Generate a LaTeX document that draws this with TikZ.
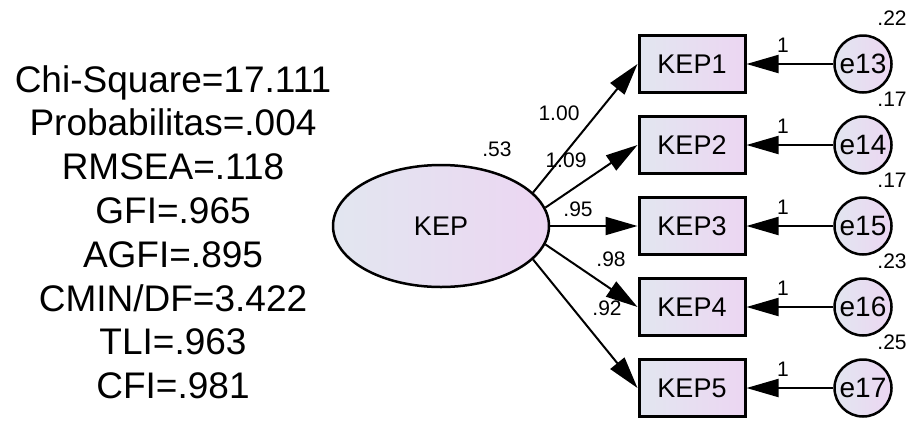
\documentclass[tikz,border=0pt]{standalone}
\usepackage{fontspec}
\setmainfont{Liberation Sans}
\usetikzlibrary{shapes.geometric,arrows.meta,positioning,calc}

\definecolor{fillleft}{RGB}{226,230,240}
\definecolor{fillright}{RGB}{236,214,242}

\begin{document}
\begin{tikzpicture}[x=1pt,y=-1pt]
  \tikzstyle{latent} = [ellipse, draw, line width=2.5pt, left color=fillleft, right color=fillright, minimum width=216pt, minimum height=122pt, font=\fontsize{27}{30}\selectfont]
  \tikzstyle{item} = [rectangle, draw, line width=3pt, left color=fillleft, right color=fillright, minimum width=106pt, minimum height=57pt, inner sep=0pt, font=\fontsize{27}{30}\selectfont]
  \tikzstyle{error} = [circle, draw, line width=2.5pt, left color=fillleft, right color=fillright, minimum size=57pt, inner sep=0pt, font=\fontsize{28}{30}\selectfont]
  \tikzstyle{path} = [line width=2pt, -{Triangle[length=32pt,width=18pt]}]
  \tikzstyle{est} = [font=\fontsize{21}{24}\selectfont, inner sep=0pt]
  \tikzstyle{fit} = [font=\fontsize{37}{44}\selectfont, anchor=base, inner sep=0pt]

  \useasboundingbox (0,0) rectangle (912,421);

  % fit indices
  \foreach \t [count=\i from 0] in {Chi-Square=17.111, Probabilitas=.004, RMSEA=.118, GFI=.965, AGFI=.895, CMIN/DF=3.422, TLI=.963, CFI=.981}
    \node [fit] (fit\i) at (173, 92+43.8*\i) {\t};

  % latent factor
  \node [latent] (kep) at (441,226) {KEP};
  \node [est] (kepvar) at (497,149) {.53};

  % indicators and their errors
  \foreach \n/\y/\e/\v/\a in {1/64/13/.22/20, 2/145/14/.17/10, 3/226/15/.17/0, 4/307/16/.23/-10, 5/388/17/.25/-20} {
    \node [item] (kep\n) at (692,\y) {KEP\n};
    \node [error] (e\e) at (863,\y) {e\e};
    \node [est] (v\e) at (892,\y-46) {\v};
    \node [est] (w\e) at (783,\y-19) {1};
    \draw [path] (e\e) -- (kep\n);
    \draw [path] (kep.\a) -- (kep\n.west);
  }

  % loadings
  \node [est] (l1) at (559,113) {1.00};
  \node [est] (l2) at (566,160) {1.09};
  \node [est] (l3) at (578,209) {.95};
  \node [est] (l4) at (611,259) {.98};
  \node [est] (l5) at (607,308) {.92};
\end{tikzpicture}
\end{document}
